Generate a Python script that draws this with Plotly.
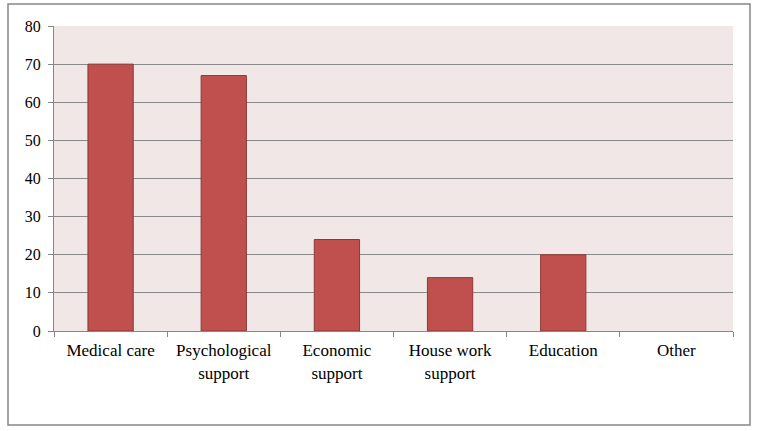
import plotly.graph_objects as go

categories = ["Medical care", "Psychological<br>support", "Economic<br>support", "House work<br>support", "Education", "Other"]
values = [70, 67, 24, 14, 20, 0]
y_ticks = [0, 10, 20, 30, 40, 50, 60, 70, 80]

fig = go.Figure()
fig.add_trace(go.Bar(
    x=categories, y=values,
    marker=dict(color="#C0504D",
                line=dict(color="#8C3836", width=[1 if v > 0 else 0 for v in values])),
    width=0.4,
))

xfont = dict(family="Liberation Serif, Times New Roman, serif", size=17, color="black")
yfont = dict(family="Liberation Serif, Times New Roman, serif", size=16, color="black")
fig.update_layout(
    width=757, height=431,
    margin=dict(l=54, r=24, t=26, b=100),
    paper_bgcolor="white",
    plot_bgcolor="#F2E7E7",
    font=xfont,
    showlegend=False,
    xaxis=dict(
        type="category", tickson="boundaries", ticks="outside", ticklen=5,
        tickcolor="#868686", showline=True, linecolor="#868686", linewidth=1,
        showgrid=False, tickfont=xfont, ticklabelstandoff=4,
    ),
    yaxis=dict(
        range=[0, 80], tickvals=y_ticks, ticks="outside", ticklen=5,
        tickcolor="#868686", showline=True, linecolor="#868686", linewidth=1,
        showgrid=True, gridcolor="#8A8A8A", gridwidth=1, zeroline=False,
        tickfont=yfont, ticklabelstandoff=4,
    ),
    shapes=[dict(
        type="rect", xref="paper", yref="paper",
        x0=-46/679, x1=1 + 17/679, y0=-94/305, y1=1 + 22/305,
        line=dict(color="#868686", width=1.5), fillcolor="rgba(0,0,0,0)", layer="below",
    )],
)
fig.write_html("out.html", config={"displayModeBar": False},
               post_script="document.body.style.margin='0';document.body.style.overflow='hidden';")
